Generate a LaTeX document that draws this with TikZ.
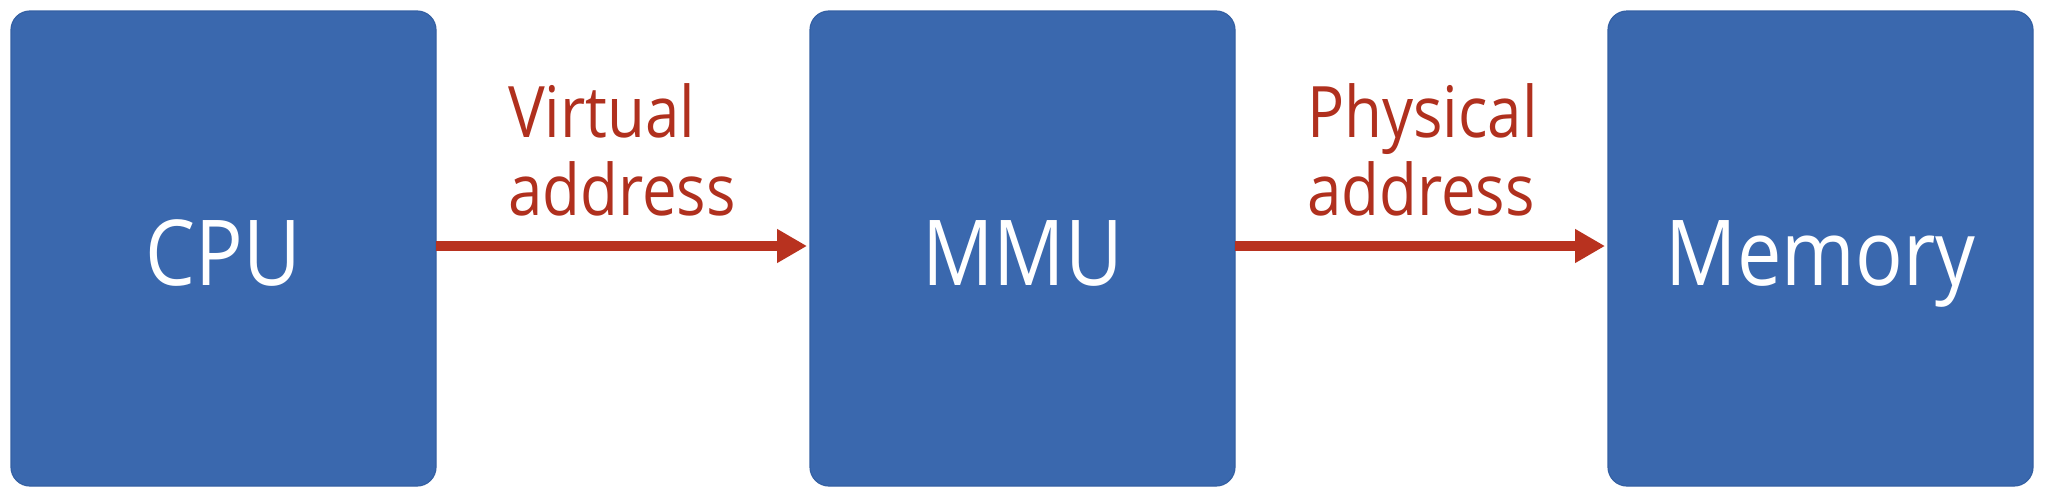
\documentclass[tikz,border=0pt]{standalone}
\usepackage{fontspec}
\setmainfont{Open Sans}[FakeStretch=0.87]
\usetikzlibrary{arrows.meta}
\definecolor{boxblue}{HTML}{3A68AE}
\definecolor{boxedge}{HTML}{3460A3}
\definecolor{arrred}{HTML}{B8321F}
\definecolor{txtred}{HTML}{B0301E}
\tikzset{
  unitbox/.style={draw=boxedge, line width=1.2pt, fill=boxblue, rounded corners=19pt},
  boxtext/.style={text=white, font=\fontsize{91}{100}\selectfont, inner sep=0pt, anchor=base},
  lbl/.style={text=txtred, font=\fontsize{71}{78}\selectfont, align=left, inner sep=0pt, anchor=base west},
  flow/.style={draw=arrred, line width=10pt, -{Triangle[length=30pt,width=32pt]}, shorten >=3pt}
}
\begin{document}
\begin{tikzpicture}[x=1pt,y=-1pt]
\useasboundingbox (0,0) rectangle (2048,498);
\fill[white] (0,0) rectangle (2048,498);
\draw[unitbox] (11,11) rectangle (436,486);
\draw[unitbox] (810,11) rectangle (1235,486);
\draw[unitbox] (1608,11) rectangle (2033,486);
\coordinate (cpuR) at (436,246);
\coordinate (mmuL) at (810,246);
\coordinate (mmuR) at (1235,246);
\coordinate (memL) at (1608,246);
\node[boxtext] (cpu) at (223.5,285) {CPU};
\node[boxtext] (mmu) at (1022.5,285) {MMU};
\node[boxtext] (mem) at (1820.5,285) {Memory};
\draw[flow] (cpuR) -- (mmuL);
\draw[flow] (mmuR) -- (memL);
\node[lbl] (va) at (508,215) {Virtual\\address};
\node[lbl] (pa) at (1307,215) {Physical\\address};
\end{tikzpicture}
\end{document}
